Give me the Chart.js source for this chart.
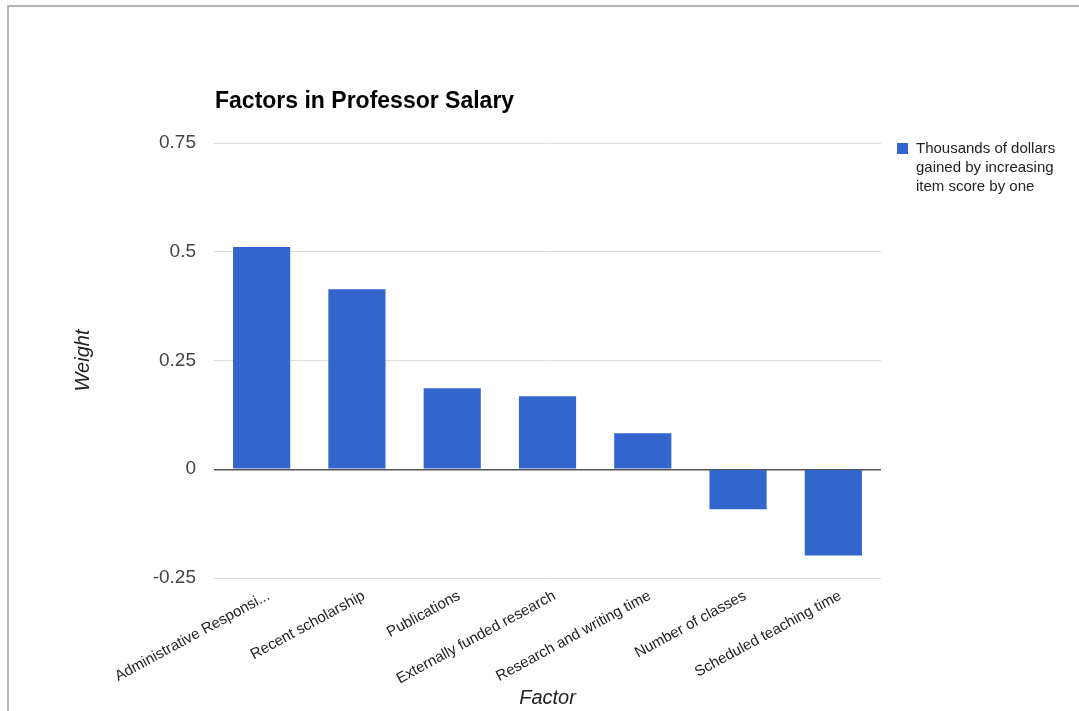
<!DOCTYPE html>
<html>
<head>
<meta charset="utf-8">
<script src="https://cdn.jsdelivr.net/npm/chart.js@4"></script>
<style>
  html, body { margin: 0; padding: 0; background: #fff; }
  #wrap { position: relative; width: 1079px; height: 711px; overflow: hidden; }
  #frame { position: absolute; left: 7px; top: 5px; width: 1100px; height: 800px;
           border-left: 2px solid #b4b4b4; border-top: 2px solid #b4b4b4; box-sizing: border-box; }
  canvas { position: absolute; left: 0; top: 0; }
</style>
</head>
<body>
<div id="wrap">
  <div id="frame"></div>
  <canvas id="c" width="1079" height="711"></canvas>
</div>
<script>
const categories = [
  "Administrative Responsi...",
  "Recent scholarship",
  "Publications",
  "Externally funded research",
  "Research and writing time",
  "Number of classes",
  "Scheduled teaching time"
];
const weights = [0.511, 0.414, 0.186, 0.168, 0.083, -0.092, -0.198];
const seriesName = ["Thousands of dollars", "gained by increasing", "item score by one"];
const chartTitle = "Factors in Professor Salary";
const yTickValues = [-0.25, 0, 0.25, 0.5, 0.75];
const yTickLabels = ["-0.25", "0", "0.25", "0.5", "0.75"];

const FONT = "'Liberation Sans', Arial, sans-serif";
const BLUE = "#3366cc";

const overlay = {
  id: "overlay",
  afterDraw(chart) {
    const ctx = chart.ctx;
    const area = chart.chartArea;
    ctx.save();
    // title
    ctx.fillStyle = "#000";
    ctx.font = "bold 23px " + FONT;
    ctx.textAlign = "left";
    ctx.textBaseline = "alphabetic";
    ctx.fillText(chartTitle, area.left + 1, 108);
    // legend
    const lx = area.right + 16, ly = area.top;
    ctx.fillStyle = BLUE;
    ctx.fillRect(lx, ly, 11, 11);
    ctx.fillStyle = "#222";
    ctx.font = "15px " + FONT;
    ctx.textBaseline = "middle";
    seriesName.forEach((t, i) => ctx.fillText(t, lx + 19, ly + 6 + i * 19));
    ctx.restore();
  }
};

new Chart(document.getElementById("c"), {
  type: "bar",
  data: {
    labels: categories,
    datasets: [{
      label: seriesName.join(" "),
      data: weights,
      backgroundColor: BLUE,
      borderWidth: 0,
      categoryPercentage: 1.0,
      barPercentage: 0.6
    }]
  },
  options: {
    responsive: false,
    animation: false,
    devicePixelRatio: 1,
    layout: { padding: { top: 143, right: 198, left: 0, bottom: 0 } },
    plugins: { legend: { display: false }, title: { display: false }, tooltip: { enabled: false } },
    scales: {
      x: {
        grid: { display: false },
        border: { display: false },
        ticks: {
          autoSkip: false,
          minRotation: 28.5,
          maxRotation: 28.5,
          padding: 1,
          labelOffset: 7,
          color: "#222",
          font: { family: FONT, size: 15 }
        },
        title: {
          display: true, text: "Factor", color: "#222",
          font: { family: FONT, size: 20, style: "italic" },
          padding: { top: 0, bottom: 1 }
        },
        afterFit(scale) { scale.height = 133; }
      },
      y: {
        min: -0.25,
        max: 0.75,
        afterBuildTicks(scale) { scale.ticks = yTickValues.map(v => ({ value: v })); },
        grid: {
          drawTicks: false,
          color: ctx => (ctx.tick && ctx.tick.value === 0) ? "#555" : "#dcdcdc",
          lineWidth: ctx => (ctx.tick && ctx.tick.value === 0) ? 1.5 : 1
        },
        border: { display: false },
        ticks: {
          padding: 18,
          color: "#444",
          font: { family: FONT, size: 19 },
          callback: v => yTickLabels[yTickValues.indexOf(v)]
        },
        title: {
          display: true, text: "Weight", color: "#222",
          font: { family: FONT, size: 20, style: "italic" },
          padding: { top: 71, bottom: 0 }
        },
        afterFit(scale) { scale.width = 214; }
      }
    }
  },
  plugins: [overlay]
});
</script>
</body>
</html>
